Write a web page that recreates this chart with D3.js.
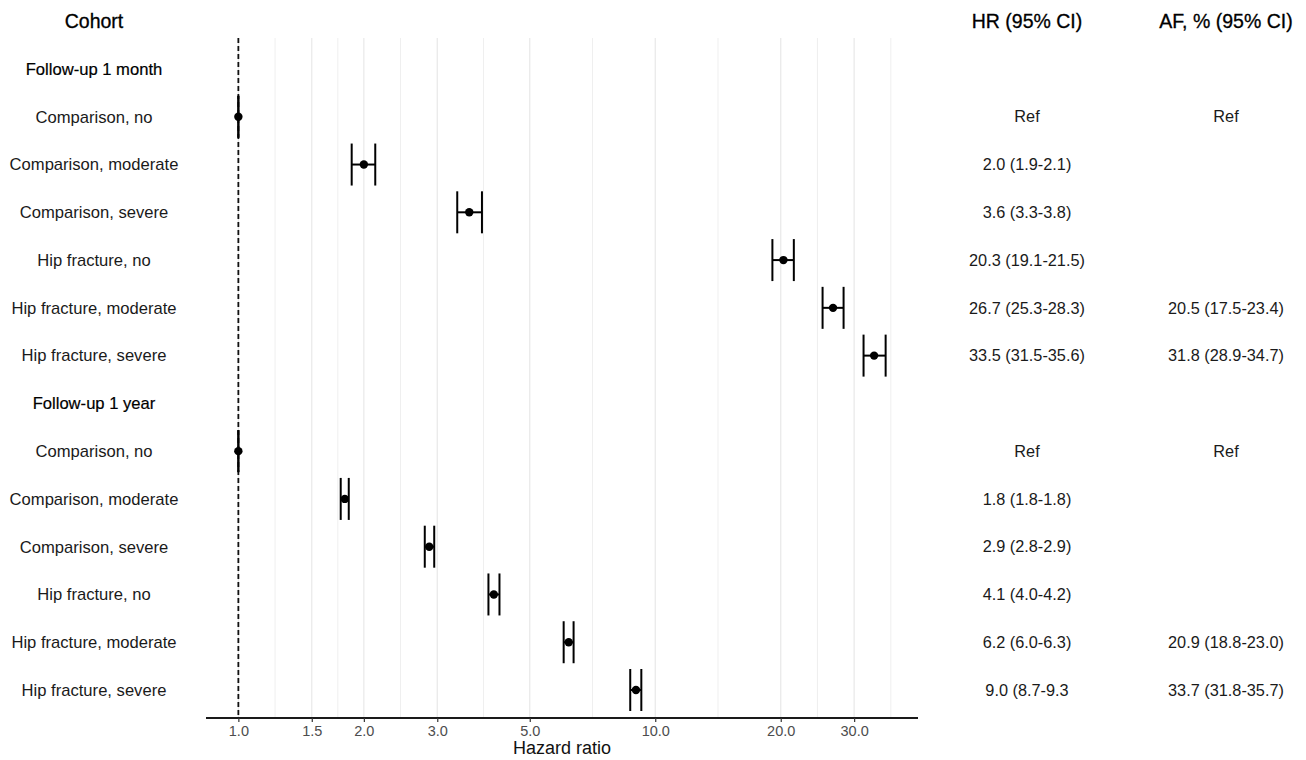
<!DOCTYPE html>
<html>
<head>
<meta charset="utf-8">
<script src="https://cdn.jsdelivr.net/npm/d3@7"></script>
<style>
  body { margin: 0; background: #fff; }
  text { font-family: "Liberation Sans", Arial, sans-serif; }
</style>
</head>
<body>
<div id="chart"></div>
<script>
// rows, top to bottom (group headers have no estimate)
const rowLabels = [
  'Follow-up 1 month',
  'Comparison, no', 'Comparison, moderate', 'Comparison, severe',
  'Hip fracture, no', 'Hip fracture, moderate', 'Hip fracture, severe',
  'Follow-up 1 year',
  'Comparison, no', 'Comparison, moderate', 'Comparison, severe',
  'Hip fracture, no', 'Hip fracture, moderate', 'Hip fracture, severe'
];
const isHeader = [true, false, false, false, false, false, false,
                  true, false, false, false, false, false, false];
// hazard ratios as drawn
const hrEst = [null, 1, 2.0, 3.58, 20.3, 26.7, 33.5, null, 1, 1.80, 2.87, 4.10, 6.20, 8.99];
const hrLow = [null, 1, 1.87, 3.35, 19.1, 25.2, 31.6, null, 1, 1.76, 2.80, 3.98, 6.03, 8.71];
const hrHigh = [null, 1, 2.13, 3.84, 21.5, 28.3, 35.7, null, 1, 1.84, 2.95, 4.23, 6.37, 9.26];
// table text
const hrText = ['', 'Ref', '2.0 (1.9-2.1)', '3.6 (3.3-3.8)', '20.3 (19.1-21.5)', '26.7 (25.3-28.3)', '33.5 (31.5-35.6)',
                '', 'Ref', '1.8 (1.8-1.8)', '2.9 (2.8-2.9)', '4.1 (4.0-4.2)', '6.2 (6.0-6.3)', '9.0 (8.7-9.3'];
const afText = ['', 'Ref', '', '', '', '20.5 (17.5-23.4)', '31.8 (28.9-34.7)',
                '', 'Ref', '', '', '', '20.9 (18.8-23.0)', '33.7 (31.8-35.7)'];
const tickValues = [1, 1.5, 2, 3, 5, 10, 20, 30];

const width = 1306, height = 760;
const plotLeft = 206, plotRight = 918, plotTop = 38, plotBottom = 718;

const svg = d3.select('#chart').append('svg')
  .attr('width', width)
  .attr('height', height);

// log domain with 5% expansion like ggplot
const allVals = hrLow.concat(hrHigh).filter(v => v != null);
const lmin = Math.log10(d3.min(allVals)), lmax = Math.log10(d3.max(allVals));
const pad = (lmax - lmin) * 0.05;
const x = d3.scaleLog()
  .domain([Math.pow(10, lmin - pad), Math.pow(10, lmax + pad)])
  .range([plotLeft, plotRight]);

const y = d3.scalePoint()
  .domain(d3.range(rowLabels.length))
  .range([69, 690]);

// minor breaks: midpoints in log space, plus one past the last break
const minor = [];
for (let i = 0; i < tickValues.length - 1; i++) {
  minor.push(Math.sqrt(tickValues[i] * tickValues[i + 1]));
}
const n = tickValues.length;
minor.push(tickValues[n - 1] * Math.sqrt(tickValues[n - 1] / tickValues[n - 2]));

svg.append('g').selectAll('line.minor')
  .data(minor.filter(v => x(v) >= plotLeft && x(v) <= plotRight))
  .enter().append('line')
  .attr('class', 'minor')
  .attr('x1', d => x(d)).attr('x2', d => x(d))
  .attr('y1', plotTop).attr('y2', plotBottom)
  .style('stroke', '#efefef')
  .style('stroke-width', 1);

svg.append('g').selectAll('line.major')
  .data(tickValues)
  .enter().append('line')
  .attr('class', 'major')
  .attr('x1', d => x(d)).attr('x2', d => x(d))
  .attr('y1', plotTop).attr('y2', plotBottom)
  .style('stroke', '#e8e8e8')
  .style('stroke-width', 1.2);

// reference line at HR = 1
svg.append('line')
  .attr('x1', x(1)).attr('x2', x(1))
  .attr('y1', plotTop).attr('y2', plotBottom)
  .style('stroke', '#111')
  .style('stroke-width', 1.8)
  .style('stroke-dasharray', '5,3');

// x axis
const xAxis = d3.axisBottom(x)
  .tickValues(tickValues)
  .tickFormat(d3.format('.1f'))
  .tickSizeOuter(0)
  .tickSize(4)
  .tickPadding(4);

const gx = svg.append('g')
  .attr('transform', `translate(0, ${plotBottom})`)
  .call(xAxis);
gx.select('.domain')
  .attr('d', `M${plotLeft},0H${plotRight}`)
  .style('stroke', '#1a1a1a')
  .style('stroke-width', 1.8);
gx.selectAll('.tick line').style('stroke', '#333').style('stroke-width', 1.2);
gx.selectAll('.tick text')
  .style('font-family', '"Liberation Sans", Arial, sans-serif')
  .style('font-size', '14.5px')
  .style('fill', '#4d4d4d');

svg.append('text')
  .attr('x', (plotLeft + plotRight) / 2)
  .attr('y', 754)
  .attr('text-anchor', 'middle')
  .style('font-size', '18px')
  .style('fill', '#111')
  .text('Hazard ratio');

// error bars
const rows = d3.range(rowLabels.length).filter(i => !isHeader[i]);
const capH = 21;
const bars = svg.append('g').selectAll('g.bar')
  .data(rows)
  .enter().append('g')
  .attr('class', 'bar');

bars.append('line')
  .attr('x1', i => x(hrLow[i])).attr('x2', i => x(hrHigh[i]))
  .attr('y1', i => y(i)).attr('y2', i => y(i))
  .style('stroke', '#000').style('stroke-width', 2);
bars.append('line')
  .attr('x1', i => x(hrLow[i])).attr('x2', i => x(hrLow[i]))
  .attr('y1', i => y(i) - capH).attr('y2', i => y(i) + capH)
  .style('stroke', '#000').style('stroke-width', 2);
bars.append('line')
  .attr('x1', i => x(hrHigh[i])).attr('x2', i => x(hrHigh[i]))
  .attr('y1', i => y(i) - capH).attr('y2', i => y(i) + capH)
  .style('stroke', '#000').style('stroke-width', 2);
bars.append('circle')
  .attr('cx', i => x(hrEst[i]))
  .attr('cy', i => y(i))
  .attr('r', 4.2)
  .style('fill', '#000');

// left labels
svg.append('g').selectAll('text.row')
  .data(d3.range(rowLabels.length))
  .enter().append('text')
  .attr('class', 'row')
  .attr('x', 94)
  .attr('y', i => y(i))
  .attr('dy', '0.35em')
  .attr('text-anchor', 'middle')
  .style('font-size', '16.6px')
  .style('fill', i => isHeader[i] ? '#000' : '#1a1a1a')
  .style('stroke', i => isHeader[i] ? '#000' : 'none')
  .style('stroke-width', 0.2)
  .text(i => rowLabels[i]);

// table columns
const cols = [
  { title: 'Cohort', cx: 94, text: null },
  { title: 'HR (95% CI)', cx: 1027, text: hrText },
  { title: 'AF, % (95% CI)', cx: 1226, text: afText }
];

svg.append('g').selectAll('text.head')
  .data(cols)
  .enter().append('text')
  .attr('class', 'head')
  .attr('x', d => d.cx)
  .attr('y', 21)
  .attr('dy', '0.35em')
  .attr('text-anchor', 'middle')
  .style('font-size', '19.5px')
  .style('fill', '#000')
  .style('stroke', '#000')
  .style('stroke-width', 0.3)
  .text(d => d.title);

cols.filter(c => c.text).forEach(c => {
  svg.append('g').selectAll('text.cell')
    .data(d3.range(c.text.length).filter(i => c.text[i] !== ''))
    .enter().append('text')
    .attr('class', 'cell')
    .attr('x', c.cx)
    .attr('y', i => y(i))
    .attr('dy', '0.35em')
    .attr('text-anchor', 'middle')
    .style('font-size', '16.3px')
    .style('fill', '#1a1a1a')
    .text(i => c.text[i]);
});
</script>
</body>
</html>
